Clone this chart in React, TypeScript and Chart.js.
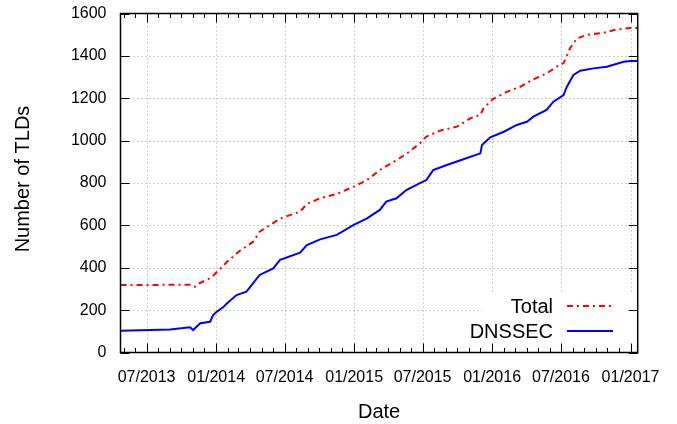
import React, { useEffect, useRef } from "react";
import { Chart, registerables } from "chart.js";

Chart.register(...registerables);

const totalDates = [
  "2013-04-23", "2013-10-24", "2013-11-06", "2013-11-15", "2013-12-10", "2013-12-24",
  "2014-01-30", "2014-03-04", "2014-04-09", "2014-04-26", "2014-06-19", "2014-08-11",
  "2014-08-29", "2014-10-03", "2014-11-16", "2014-12-31", "2015-02-04", "2015-03-10",
  "2015-04-23", "2015-05-19", "2015-06-24", "2015-07-11", "2015-08-16", "2015-09-30",
  "2015-11-04", "2015-12-01", "2015-12-09", "2016-01-02", "2016-02-10", "2016-03-15",
  "2016-04-19", "2016-05-24", "2016-06-20", "2016-07-08", "2016-07-25", "2016-08-12",
  "2016-09-08", "2016-10-21", "2016-11-27", "2017-01-01", "2017-01-20",
];
const totalValues = [
  318, 320, 310, 325, 345, 362,
  428, 479, 523, 570, 632, 665,
  701, 728, 748, 783, 814, 861,
  908, 937, 987, 1019, 1047, 1066,
  1105, 1121, 1152, 1195, 1231, 1254,
  1289, 1317, 1349, 1366, 1436, 1482,
  1499, 1509, 1525, 1531, 1531,
];

const dnssecDates = [
  "2013-04-23", "2013-09-01", "2013-10-24", "2013-11-01", "2013-11-20", "2013-12-16",
  "2013-12-24", "2014-01-03", "2014-01-21", "2014-01-30", "2014-02-24", "2014-03-22",
  "2014-04-09", "2014-04-26", "2014-06-01", "2014-06-19", "2014-08-11", "2014-08-29",
  "2014-10-03", "2014-11-16", "2014-12-31", "2015-02-04", "2015-03-10", "2015-03-27",
  "2015-04-23", "2015-05-19", "2015-06-24", "2015-07-11", "2015-07-29", "2015-09-03",
  "2015-10-17", "2015-12-01", "2015-12-05", "2015-12-27", "2016-02-01", "2016-03-06",
  "2016-04-02", "2016-04-19", "2016-05-24", "2016-06-11", "2016-07-08", "2016-07-16",
  "2016-08-03", "2016-08-21", "2016-09-25", "2016-10-30", "2016-12-14", "2017-01-01",
  "2017-01-20",
];
const dnssecValues = [
  103, 108, 119, 106, 138, 145,
  177, 193, 216, 232, 271, 287,
  327, 366, 397, 437, 471, 507,
  534, 555, 602, 633, 673, 712,
  728, 767, 799, 814, 861, 885,
  912, 940, 979, 1016, 1042, 1074,
  1089, 1113, 1145, 1184, 1215, 1252,
  1310, 1330, 1341, 1349, 1372, 1376,
  1376,
];

const xTickDates = [
  "2013-07-01", "2014-01-01", "2014-07-01", "2015-01-01",
  "2015-07-01", "2016-01-01", "2016-07-01", "2017-01-01",
];
const xTickLabels = [
  "07/2013", "01/2014", "07/2014", "01/2015",
  "07/2015", "01/2016", "07/2016", "01/2017",
];
const xRange = ["2013-04-23", "2017-01-20"];
const yTicks = [0, 200, 400, 600, 800, 1000, 1200, 1400, 1600];

const seriesNames = ["Total", "DNSSEC"];
const seriesColors = ["#ff0000", "#0000ff"];

const toDay = (s: string) => {
  const [y, m, d] = s.split("-").map(Number);
  return Date.UTC(y, m - 1, d) / 86400000;
};

const FONT = "'Liberation Sans', Arial, Helvetica, sans-serif";

export default function App() {
  const ref = useRef<HTMLCanvasElement | null>(null);

  useEffect(() => {
    if (!ref.current) return;
    const tickDays = xTickDates.map(toDay);

    const gnuplotPlugin = {
      id: "gnuplotDecor",
      beforeDatasetsDraw(chart: any) {
        const ctx = chart.ctx;
        const a = chart.chartArea;
        const xs = chart.scales.x;
        const ys = chart.scales.y;
        ctx.save();
        ctx.strokeStyle = "#a0a0a0";
        ctx.lineWidth = 1;
        ctx.setLineDash([1, 3]);
        const keyLeft = 482;
        const keyTop = 293;
        for (const d of tickDays) {
          const px = Math.round(xs.getPixelForValue(d)) + 0.5;
          const yEnd = px > keyLeft ? keyTop : a.bottom - 9;
          ctx.beginPath();
          ctx.moveTo(px, a.top + 9);
          ctx.lineTo(px, yEnd);
          ctx.stroke();
        }
        for (const v of yTicks.slice(1, -1)) {
          const py = Math.round(ys.getPixelForValue(v)) + 0.5;
          const xEnd = py > keyTop ? keyLeft : a.right - 9;
          ctx.beginPath();
          ctx.moveTo(a.left + 9, py);
          ctx.lineTo(xEnd, py);
          ctx.stroke();
        }
        ctx.restore();
      },
      afterDraw(chart: any) {
        const ctx = chart.ctx;
        const a = chart.chartArea;
        const xs = chart.scales.x;
        const ys = chart.scales.y;
        ctx.save();
        ctx.strokeStyle = "#000";
        ctx.lineWidth = 1;
        const start = new Date(toDay(xRange[0]) * 86400000);
        let y = start.getUTCFullYear();
        let m = start.getUTCMonth() + 1;
        const maxDay = toDay(xRange[1]);
        for (;;) {
          if (m > 11) { m = 0; y += 1; }
          const day = Date.UTC(y, m, 1) / 86400000;
          if (day > maxDay) break;
          const px = Math.round(xs.getPixelForValue(day)) + 0.5;
          const len = m === 0 || m === 6 ? 9 : 4.5;
          ctx.beginPath();
          ctx.moveTo(px, a.bottom);
          ctx.lineTo(px, a.bottom - len);
          ctx.moveTo(px, a.top);
          ctx.lineTo(px, a.top + len);
          ctx.stroke();
          m += 1;
        }
        for (const v of yTicks) {
          const py = Math.round(ys.getPixelForValue(v)) + 0.5;
          ctx.beginPath();
          ctx.moveTo(a.left, py);
          ctx.lineTo(a.left + 9, py);
          ctx.moveTo(a.right, py);
          ctx.lineTo(a.right - 9, py);
          ctx.stroke();
        }
        ctx.lineWidth = 1.5;
        ctx.strokeRect(a.left, a.top, a.right - a.left, a.bottom - a.top);

        ctx.font = `20px ${FONT}`;
        ctx.fillStyle = "#000";
        ctx.textAlign = "right";
        ctx.textBaseline = "middle";
        const ly = [306, 331];
        seriesNames.forEach((name, i) => {
          ctx.fillText(name, 553, ly[i] + 1);
          ctx.beginPath();
          ctx.strokeStyle = seriesColors[i];
          ctx.lineWidth = 2;
          ctx.setLineDash(i === 0 ? [6, 4, 2, 4] : []);
          ctx.moveTo(567, ly[i]);
          ctx.lineTo(613, ly[i]);
          ctx.stroke();
          ctx.setLineDash([]);
        });

        ctx.fillStyle = "#000";
        ctx.textAlign = "center";
        ctx.textBaseline = "middle";
        ctx.font = `20px ${FONT}`;
        ctx.fillText("Date", (a.left + a.right) / 2, 412);
        ctx.translate(23, 179);
        ctx.rotate(-Math.PI / 2);
        ctx.fillText("Number of TLDs", 0, 0);
        ctx.restore();
      },
    };

    const chart = new Chart(ref.current, {
      type: "line",
      data: {
        datasets: [
          {
            label: seriesNames[0],
            data: totalDates.map((d, i) => ({ x: toDay(d), y: totalValues[i] })),
            borderColor: seriesColors[0],
            borderWidth: 2,
            borderDash: [6, 4, 2, 4],
            pointRadius: 0,
            fill: false,
            tension: 0,
          },
          {
            label: seriesNames[1],
            data: dnssecDates.map((d, i) => ({ x: toDay(d), y: dnssecValues[i] })),
            borderColor: seriesColors[1],
            borderWidth: 2,
            pointRadius: 0,
            fill: false,
            tension: 0,
          },
        ],
      },
      options: {
        responsive: false,
        animation: false,
        layout: { padding: { left: 0, top: 13.5, right: 39.3, bottom: 0 } },
        plugins: { legend: { display: false }, tooltip: { enabled: false } },
        scales: {
          x: {
            type: "linear",
            min: toDay(xRange[0]),
            max: toDay(xRange[1]),
            afterBuildTicks: (scale: any) => {
              scale.ticks = tickDays.map((v) => ({ value: v }));
            },
            afterFit: (scale: any) => {
              scale.height = 71.5;
              scale.paddingLeft = 0;
              scale.paddingRight = 0;
            },
            ticks: {
              autoSkip: false,
              maxRotation: 0,
              padding: 15,
              color: "#000",
              font: { family: FONT, size: 16 },
              callback: (v: any) => {
                const i = tickDays.indexOf(Number(v));
                return i >= 0 ? xTickLabels[i] : "";
              },
            },
            grid: { display: false, drawTicks: false },
            border: { display: false },
          },
          y: {
            type: "linear",
            min: 0,
            max: 1600,
            afterBuildTicks: (scale: any) => {
              scale.ticks = yTicks.map((v) => ({ value: v }));
            },
            afterFit: (scale: any) => {
              scale.width = 120.5;
              scale.paddingTop = 0;
              scale.paddingBottom = 0;
            },
            ticks: {
              padding: 14,
              color: "#000",
              font: { family: FONT, size: 16 },
              callback: (v: any) => String(v),
            },
            grid: { display: false, drawTicks: false },
            border: { display: false },
          },
        },
      },
      plugins: [gnuplotPlugin],
    } as any);

    return () => chart.destroy();
  }, []);

  return (
    <div style={{ position: "fixed", left: 0, top: 0, width: 677, height: 424, background: "#fff" }}>
      <canvas ref={ref} width={677} height={424} style={{ width: 677, height: 424 }} />
    </div>
  );
}
